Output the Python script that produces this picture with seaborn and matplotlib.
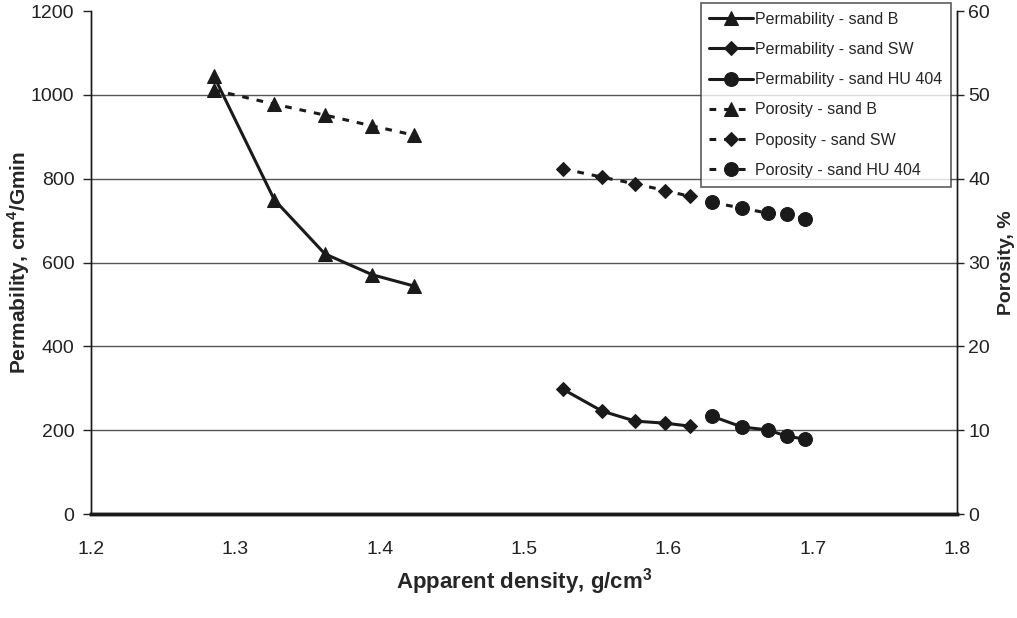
import matplotlib
matplotlib.use("Agg")
import matplotlib.pyplot as plt
import seaborn as sns
import pandas as pd

# Apparent density (g/cm3) for each sand
density_b = [1.285, 1.327, 1.362, 1.395, 1.424]
density_sw = [1.527, 1.554, 1.577, 1.598, 1.615]
density_hu = [1.630, 1.651, 1.669, 1.682, 1.695]

# Permeability, cm4/Gmin
perm_b = [1046, 750, 621, 571, 544]
perm_sw = [298, 246, 222, 217, 210]
perm_hu = [234, 208, 201, 186, 179]

# Porosity, %
poro_b = [50.6, 48.9, 47.6, 46.3, 45.2]
poro_sw = [41.2, 40.2, 39.4, 38.6, 37.9]
poro_hu = [37.2, 36.5, 35.9, 35.8, 35.2]

perm_labels = ["Permability - sand B", "Permability - sand SW", "Permability - sand HU 404"]
poro_labels = ["Porosity - sand B", "Poposity - sand SW", "Porosity - sand HU 404"]
markers = ["^", "D", "o"]
marker_sizes = [10, 7, 10]

sns.set_style("white")
plt.rcParams["font.family"] = ["Liberation Sans", "DejaVu Sans"]
plt.rcParams["mathtext.fontset"] = "custom"
plt.rcParams["mathtext.rm"] = "Liberation Sans"
plt.rcParams["mathtext.bf"] = "Liberation Sans:bold"

fig = plt.figure(figsize=(10.17, 6.18), dpi=100)
ax = fig.add_axes([0.0895, 0.168, 0.8515, 0.814])
ax2 = ax.twinx()

ink = "#1a1a1a"
densities = [density_b, density_sw, density_hu]

for d, p, lab, m, ms in zip(densities, [perm_b, perm_sw, perm_hu], perm_labels, markers, marker_sizes):
    df = pd.DataFrame({"density": d, "value": p})
    sns.lineplot(data=df, x="density", y="value", ax=ax, color=ink, marker=m,
                 markersize=ms, markeredgecolor=ink, markerfacecolor=ink,
                 linewidth=2.2, label=lab, legend=False)

for d, p, lab, m, ms in zip(densities, [poro_b, poro_sw, poro_hu], poro_labels, markers, marker_sizes):
    df = pd.DataFrame({"density": d, "value": p})
    sns.lineplot(data=df, x="density", y="value", ax=ax2, color=ink, marker=m,
                 markersize=ms, markeredgecolor=ink, markerfacecolor=ink,
                 linewidth=2.2, linestyle=(0, (2.2, 2.6)), label=lab, legend=False)

ax.set_xlim(1.2, 1.8)
ax.set_ylim(0, 1200)
ax2.set_ylim(0, 60)
ax.set_xticks([1.2, 1.3, 1.4, 1.5, 1.6, 1.7, 1.8])
ax.set_xticklabels(["1.2", "1.3", "1.4", "1.5", "1.6", "1.7", "1.8"])
ax.set_yticks(range(0, 1201, 200))
ax2.set_yticks(range(0, 61, 10))

ax.yaxis.grid(True, color="#555555", linewidth=1.0)
ax.set_axisbelow(True)
ax.get_ygridlines()[-1].set_visible(False)
ax.get_ygridlines()[0].set_visible(False)

for a in (ax, ax2):
    a.spines["top"].set_visible(False)
    for s in ("left", "right"):
        a.spines[s].set_color(ink)
        a.spines[s].set_linewidth(1.0)
    a.spines["bottom"].set_color(ink)
    a.spines["bottom"].set_linewidth(2.5)
    a.tick_params(axis="both", direction="out", length=6, width=1, colors="#222222",
                  labelsize=14, pad=6)
ax.tick_params(axis="x", pad=13)
ax2.tick_params(axis="y", length=5, pad=3)

ax.set_xlabel(r"Apparent density, g/cm$^{\mathbf{3}}$", fontsize=16, fontweight="bold", labelpad=6)
ax.set_ylabel(r"Permability, cm$^{\mathbf{4}}$/Gmin", fontsize=15, fontweight="bold")
ax2.set_ylabel("Porosity, %", fontsize=14, fontweight="bold")
ax.yaxis.set_label_coords(-0.068, 0.5)
ax2.yaxis.set_label_coords(1.047, 0.5)

h1, l1 = ax.get_legend_handles_labels()
h2, l2 = ax2.get_legend_handles_labels()
leg = ax2.legend(h1 + h2, l1 + l2, loc="upper right", bbox_to_anchor=(0.993, 1.016),
                 fontsize=11.5, handlelength=2.7, handletextpad=0.15, labelspacing=0.95,
                 borderpad=0.55, frameon=True, fancybox=False, borderaxespad=0.0)
leg.get_frame().set_edgecolor("#333333")
leg.get_frame().set_linewidth(1.2)

fig.savefig("out.png", dpi=100)
